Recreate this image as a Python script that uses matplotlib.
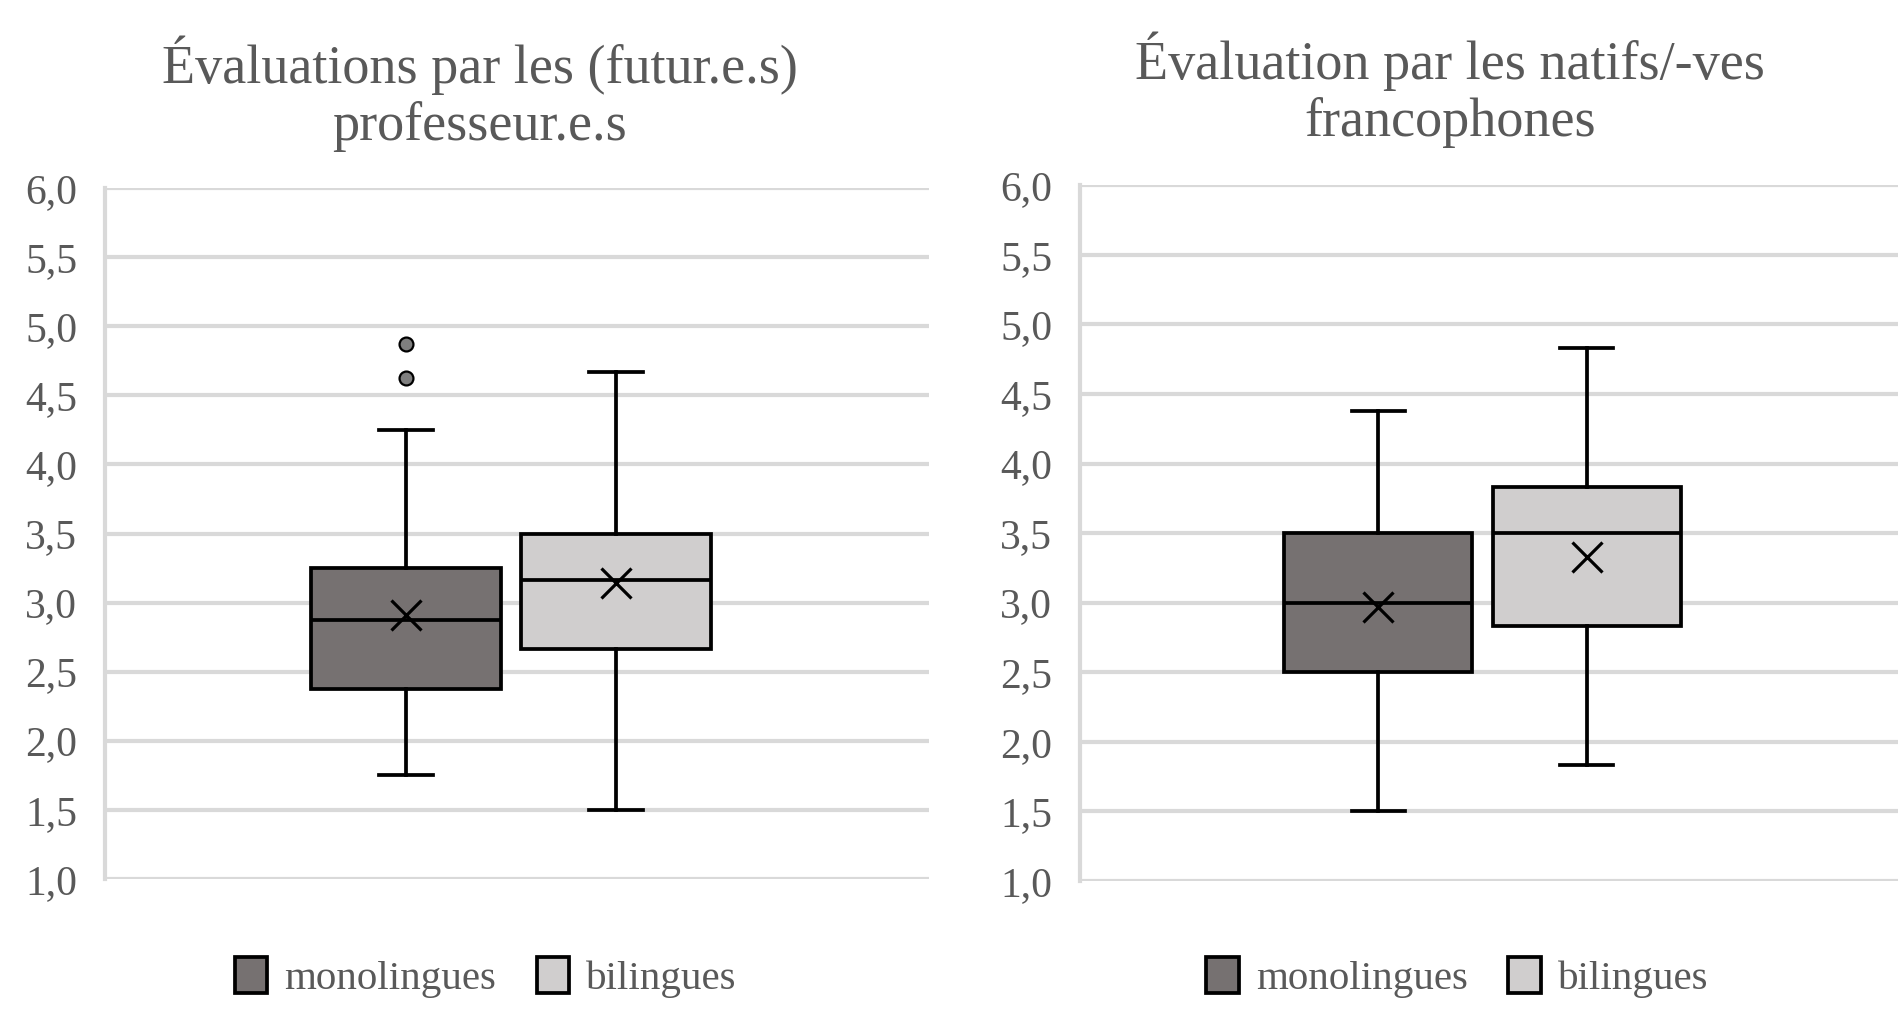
import matplotlib
matplotlib.use("Agg")
import matplotlib.pyplot as plt
from matplotlib.patches import Patch

plt.rcParams['font.family'] = ['Liberation Serif', 'DejaVu Serif']

# ---- data ----
groups = ["monolingues", "bilingues"]
titles = ["Évaluations par les (futur.e.s)\nprofesseur.e.s",
          "Évaluation par les natifs/-ves\nfrancophones"]

# panel 1: teachers
p1_whislo = [1.75, 1.5]
p1_q1 = [2.375, 2.667]
p1_med = [2.875, 3.167]
p1_q3 = [3.25, 3.5]
p1_whishi = [4.25, 4.667]
p1_mean = [2.91, 3.14]
p1_fliers = [[4.625, 4.875], []]

# panel 2: native speakers
p2_whislo = [1.5, 1.833]
p2_q1 = [2.5, 2.833]
p2_med = [3.0, 3.5]
p2_q3 = [3.5, 3.833]
p2_whishi = [4.375, 4.833]
p2_mean = [2.97, 3.33]
p2_fliers = [[], []]

yticks = [1.0, 1.5, 2.0, 2.5, 3.0, 3.5, 4.0, 4.5, 5.0, 5.5, 6.0]
ytick_labels = ["1,0", "1,5", "2,0", "2,5", "3,0", "3,5", "4,0", "4,5", "5,0", "5,5", "6,0"]

fills = ["#767171", "#d0cece"]
text_color = "#595959"
grid_color = "#d9d9d9"

fig = plt.figure(figsize=(19, 10.18), dpi=100)
axes_rects = [[0.0553, 0.1365, 0.4337, 0.6788], [0.5684, 0.1346, 0.4303, 0.6833]]
title_pos = [(0.2526, 0.908), (0.763, 0.912)]
legend_pos = [0.2555, 0.767]

panels = [
    (p1_whislo, p1_q1, p1_med, p1_q3, p1_whishi, p1_mean, p1_fliers),
    (p2_whislo, p2_q1, p2_med, p2_q3, p2_whishi, p2_mean, p2_fliers),
]

lw = 2.7
for i, (wlo, q1, med, q3, whi, mean, fl) in enumerate(panels):
    ax = fig.add_axes(axes_rects[i])
    stats = []
    for j in range(len(groups)):
        stats.append(dict(label=groups[j], whislo=wlo[j], q1=q1[j], med=med[j],
                          q3=q3[j], whishi=whi[j], mean=mean[j], fliers=fl[j]))
    bp = ax.bxp(stats, positions=[0.365, 0.62], widths=0.23, patch_artist=True,
                showmeans=True, showfliers=True, manage_ticks=False,
                boxprops=dict(linewidth=lw, edgecolor="black"),
                whiskerprops=dict(linewidth=lw, color="black"),
                capprops=dict(linewidth=lw, color="black"),
                capwidths=0.065,
                medianprops=dict(linewidth=lw, color="black"),
                meanprops=dict(marker="x", markersize=22, markeredgewidth=2.3,
                               markeredgecolor="black", markerfacecolor="black"),
                flierprops=dict(marker="o", markersize=10, markerfacecolor="#7f7f7f",
                                markeredgecolor="black", markeredgewidth=1.6))
    for patch, c in zip(bp['boxes'], fills):
        patch.set_facecolor(c)
    ax.set_xlim(0, 1)
    ax.set_ylim(1.0, 6.0)
    ax.set_yticks(yticks)
    ax.set_yticklabels(ytick_labels)
    ax.set_xticks([])
    ax.tick_params(axis='y', length=0, labelsize=30, labelcolor=text_color, pad=20)
    for y in yticks:
        ax.axhline(y, color=grid_color, linewidth=3, zorder=0)
    for s in ['top', 'right', 'bottom']:
        ax.spines[s].set_visible(False)
    ax.spines['left'].set_color(grid_color)
    ax.spines['left'].set_linewidth(3)
    ax.patch.set_alpha(0)

    fig.text(title_pos[i][0], title_pos[i][1], titles[i], ha='center', va='center',
             fontsize=39, color=text_color, linespacing=1.15)

    handles = [Patch(facecolor=fills[j], edgecolor="black", linewidth=lw, label=groups[j])
               for j in range(len(groups))]
    fig.legend(handles=handles, loc='center', bbox_to_anchor=(legend_pos[i], 0.040),
               ncol=2, frameon=False, fontsize=29.5, labelcolor=text_color,
               handlelength=0.8, handleheight=1.0, handletextpad=0.4, columnspacing=1.0)

fig.savefig("out.png", dpi=100)
